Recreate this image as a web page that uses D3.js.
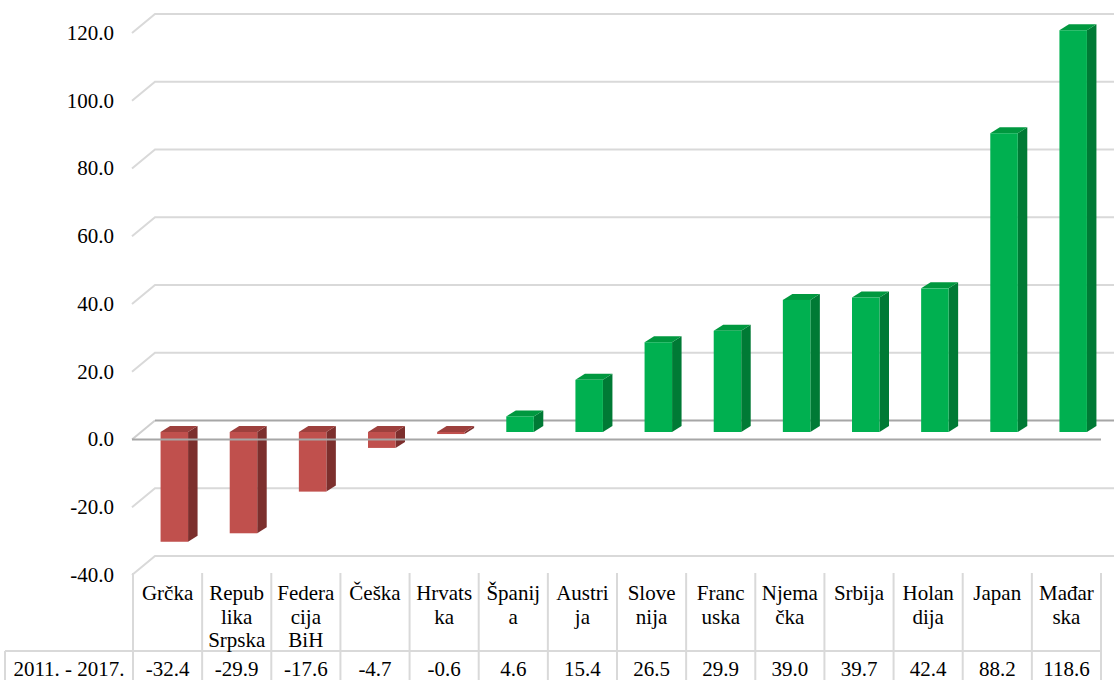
<!DOCTYPE html>
<html>
<head>
<meta charset="utf-8">
<script src="https://cdn.jsdelivr.net/npm/d3@7"></script>
</head>
<body style="margin:0">
<svg id="chart" width="1114" height="680"></svg>
<script>
// Change over the period, by country / entity
const categories = ["Grčka", "Republika Srpska", "Federacija BiH", "Češka", "Hrvatska", "Španija",
  "Austrija", "Slovenija", "Francuska", "Njemačka", "Srbija", "Holandija", "Japan", "Mađarska"];
// Header cell text as it wraps in the data table
const headerLines = [["Grčka"], ["Repub", "lika", "Srpska"], ["Federa", "cija", "BiH"], ["Češka"],
  ["Hrvats", "ka"], ["Španij", "a"], ["Austri", "ja"], ["Slove", "nija"], ["Franc", "uska"],
  ["Njema", "čka"], ["Srbija"], ["Holan", "dija"], ["Japan"], ["Mađar", "ska"]];
const values = [-32.4, -29.9, -17.6, -4.7, -0.6, 4.6, 15.4, 26.5, 29.9, 39.0, 39.7, 42.4, 88.2, 118.6];
const seriesName = "2011. - 2017.";
const yTicks = [-40, -20, 0, 20, 40, 60, 80, 100, 120];

const W = 1114, H = 680;
const svg = d3.select("#chart");

// Every label shares one serif face
function label(sel) {
  return sel.attr("font-family", "Times New Roman")
    .style("font-family", '"Times New Roman"', "important")
    .attr("font-size", 21).attr("fill", "#000");
}

// 3D box: back wall, front edge offset down-left, bars standing mid-depth
const depth = { dx: 23, dy: 19 };     // front edge relative to back wall
const barShift = 11.5;                // bar base plane below the back wall
const yBack = d3.scaleLinear().domain([-40, 120]).range([556, 14]);
const yFront = v => yBack(v) + depth.dy;
const yBar = v => yBack(v) + barShift;

const tableLeft = 133, tableRight = 1101;
const x = d3.scaleBand().domain(categories).range([tableLeft, tableRight]).padding(0);
const wallLeft = tableLeft - 1 + depth.dx;   // back wall starts here
const fmt = v => d3.format(".1f")(v).replace("\u2212", "-");

// Gridlines: short diagonal on the side wall plus the line along the back wall
const grid = svg.append("g").attr("fill", "none").attr("stroke", "#d9d9d9").attr("stroke-width", 2);
yTicks.filter(t => t !== 0).forEach(t => {
  grid.append("path")
    .attr("d", `M${wallLeft - depth.dx},${yFront(t)}L${wallLeft},${yBack(t)}L${W + 5},${yBack(t)}`);
});

// Zero floor: back edge and side diagonal
svg.append("path").attr("fill", "none").attr("stroke", "#cfcfcf").attr("stroke-width", 2)
  .attr("d", `M${wallLeft - depth.dx},${yFront(0)}L${wallLeft},${yBack(0)}`);
svg.append("line").attr("stroke", "#a6a6a6").attr("stroke-width", 2)
  .attr("x1", wallLeft).attr("x2", W + 5).attr("y1", yBack(0)).attr("y2", yBack(0));

// Y axis labels
svg.append("g").selectAll("text").data(yTicks).join("text")
  .call(label)
  .attr("x", 114).attr("y", d => yFront(d)).attr("dy", "0.33em")
  .attr("text-anchor", "end")
  .text(d => fmt(d));

// Bars as prisms: front, top and right side faces
const bw = 27.5, bdx = 9.5, bdy = 6;
const colors = {
  pos: { front: "#00b050", top: "#00983f", side: "#007a35" },
  neg: { front: "#c0504d", top: "#9d403d", side: "#7c2f2d" }
};
const bars = svg.append("g").selectAll("g").data(categories.map((c, i) => ({ c, v: values[i] }))).join("g");
bars.each(function (d) {
  const g = d3.select(this);
  const col = d.v >= 0 ? colors.pos : colors.neg;
  const x0 = x(d.c) + x.bandwidth() / 2 - 7;
  const x1 = x0 + bw;
  const yt = Math.min(yBar(d.v), yBar(0));
  const yb = Math.max(yBar(d.v), yBar(0));
  g.append("path").attr("fill", col.side)
    .attr("d", `M${x1},${yt}L${x1 + bdx},${yt - bdy}L${x1 + bdx},${yb - bdy}L${x1},${yb}Z`);
  g.append("path").attr("fill", col.top)
    .attr("d", `M${x0},${yt}L${x0 + bdx},${yt - bdy}L${x1 + bdx},${yt - bdy}L${x1},${yt}Z`);
  g.append("rect").attr("fill", col.front)
    .attr("x", x0).attr("y", yt).attr("width", bw).attr("height", yb - yt);
});

// Zero floor: front edge
svg.append("line").attr("stroke", "#a6a6a6").attr("stroke-width", 2)
  .attr("x1", wallLeft - depth.dx).attr("x2", tableRight).attr("y1", yFront(0)).attr("y2", yFront(0));

// Data table under the plot
const headTop = yFront(-40) - 2, rowTop = 651, rowBottom = 690, labelLeft = 5;
const tbl = svg.append("g").attr("stroke", "#d9d9d9").attr("stroke-width", 2).attr("fill", "none");
categories.forEach(c => {
  tbl.append("line").attr("x1", x(c)).attr("x2", x(c)).attr("y1", headTop).attr("y2", rowBottom);
});
tbl.append("line").attr("x1", tableRight).attr("x2", tableRight).attr("y1", headTop).attr("y2", rowBottom);
tbl.append("line").attr("x1", labelLeft).attr("x2", tableRight).attr("y1", rowTop).attr("y2", rowTop);
tbl.append("line").attr("x1", labelLeft).attr("x2", labelLeft).attr("y1", rowTop).attr("y2", rowBottom);

// Header cells: one text element per line
const headRows = [];
categories.forEach((c, i) => {
  headerLines[i].forEach((ln, j) => headRows.push({ x: x(c) + x.bandwidth() / 2, y: 600 + j * 23.5, t: ln }));
});
svg.append("g").selectAll("text").data(headRows).join("text")
  .call(label)
  .attr("text-anchor", "middle")
  .attr("x", d => d.x).attr("y", d => d.y).text(d => d.t);

const cells = [{ x: (labelLeft + tableLeft) / 2, t: seriesName }]
  .concat(categories.map((c, i) => ({ x: x(c) + x.bandwidth() / 2, t: fmt(values[i]) })));
svg.append("g").selectAll("text").data(cells).join("text")
  .call(label)
  .attr("text-anchor", "middle")
  .attr("x", d => d.x).attr("y", 676).text(d => d.t);
</script>
</body>
</html>
